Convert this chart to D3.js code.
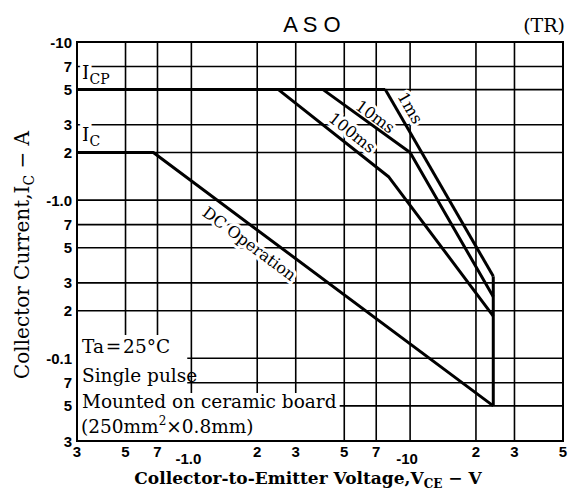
<!DOCTYPE html>
<html>
<head>
<meta charset="utf-8">
<script src="https://cdn.jsdelivr.net/npm/d3@7"></script>
<style>
  body { margin: 0; background: #fff; }
  .tick { font-family: "Liberation Sans", Arial, sans-serif; font-weight: bold; font-size: 15px; }
  .serif { font-family: "DejaVu Serif", serif; }
</style>
</head>
<body>
<svg width="585" height="493"></svg>
<script>
// ---- data ----
var xTicks = [0.3, 0.5, 0.7, 1, 2, 3, 5, 7, 10, 20, 30, 50];
var xTickLabels = ["3", "5", "7", "-1.0", "2", "3", "5", "7", "-10", "2", "3", "5"];
var yTicks = [0.03, 0.05, 0.07, 0.1, 0.2, 0.3, 0.5, 0.7, 1, 2, 3, 5, 7, 10];
var yTickLabels = ["3", "5", "7", "-0.1", "2", "3", "5", "7", "-1.0", "2", "3", "5", "7", "-10"];

var icp = [[0.3, 5], [7.7, 5]];
var dc = [[0.3, 2], [0.67, 2], [24, 0.05]];
var ms100 = [[2.5, 5], [8, 1.4], [24, 0.185]];
var ms10 = [[4, 5], [10, 2], [24, 0.245]];
var ms1 = [[7.7, 5], [24, 0.33]];
var vceo = [[24, 0.33], [24, 0.05]];

// label anchors: [text, V, I, segment used for angle]
var curveLabels = [
  ["DC Operation", 1.84, 0.53, [dc[1], dc[2]]],
  ["100ms", 5.43, 2.67, [ms100[0], ms100[1]]],
  ["10ms", 6.93, 3.37, [ms10[0], ms10[1]]],
  ["1ms", 10, 3.83, [ms1[0], ms1[1]]]
];
var notes = ["Ta\u200a=\u200a25°C", "Single pulse", "Mounted on ceramic board"];

var svg = d3.select('svg');
var mLeft = 77, mRight = 563, mTop = 42, mBottom = 441;

var x = d3.scaleLog().domain([0.3, 50]).range([mLeft, mRight]);
var y = d3.scaleLog().domain([0.03, 10]).range([mBottom, mTop]);

var gridG = svg.append('g'), boxG = svg.append('g'), labelG = svg.append('g'),
    curveG = svg.append('g'), textG = svg.append('g');

gridG.selectAll('line.v').data(xTicks).enter().append('line')
    .attr('x1', function (d) { return x(d); }).attr('x2', function (d) { return x(d); })
    .attr('y1', mTop).attr('y2', mBottom)
    .attr('stroke', '#000').attr('stroke-width', 1.6);
gridG.selectAll('line.h').data(yTicks).enter().append('line')
    .attr('y1', function (d) { return y(d); }).attr('y2', function (d) { return y(d); })
    .attr('x1', mLeft).attr('x2', mRight)
    .attr('stroke', '#000').attr('stroke-width', 1.6);

var line = d3.line().x(function (d) { return x(d[0]); }).y(function (d) { return y(d[1]); });
curveG.selectAll('path').data([icp, dc, ms100, ms10, ms1, vceo]).enter().append('path')
    .attr('d', line)
    .attr('fill', 'none').attr('stroke', '#000').attr('stroke-width', 3)
    .attr('stroke-linejoin', 'round');

curveG.append('rect')
    .attr('x', mLeft).attr('y', mTop).attr('width', mRight - mLeft).attr('height', mBottom - mTop)
    .attr('fill', 'none').attr('stroke', '#000').attr('stroke-width', 2);

// tick labels
textG.append('g').selectAll('text').data(yTicks).enter().append('text')
    .attr('class', 'tick')
    .attr('x', mLeft - 5).attr('y', function (d) { return y(d) + 5.5; })
    .attr('text-anchor', 'end')
    .text(function (d, i) { return yTickLabels[i]; });
textG.append('g').selectAll('text').data(xTicks).enter().append('text')
    .attr('class', 'tick')
    .attr('x', function (d, i) { return x(d) + (xTickLabels[i].charAt(0) === '-' ? -3 : 0); })
    .attr('y', function (d, i) { return xTickLabels[i].charAt(0) === '-' ? 464 : 457; })
    .attr('text-anchor', 'middle')
    .text(function (d, i) { return xTickLabels[i]; });

// curve labels with white halo (under the curves)
curveLabels.forEach(function (c) {
    var a = c[3][0], b = c[3][1];
    var ang = Math.atan2(y(b[1]) - y(a[1]), x(b[0]) - x(a[0])) * 180 / Math.PI;
    labelG.append('text')
        .attr('class', 'serif')
        .attr('font-size', 16)
        .attr('text-anchor', 'middle')
        .attr('dominant-baseline', 'central')
        .attr('transform', 'translate(' + x(c[1]) + ',' + y(c[2]) + ') rotate(' + ang + ')')
        .attr('stroke', '#fff').attr('stroke-width', 6).attr('paint-order', 'stroke')
        .attr('fill', '#000')
        .text(c[0]);
});

// I_CP / I_C labels
function subLabel(main, sub, px, py) {
    var t = labelG.append('text').attr('class', 'serif').attr('font-size', 19)
        .attr('x', px).attr('y', py)
        .attr('stroke', '#fff').attr('stroke-width', 6).attr('paint-order', 'stroke');
    t.append('tspan').text(main);
    t.append('tspan').attr('dy', 5).attr('font-size', 14).text(sub);
}
subLabel('I', 'CP', mLeft + 5, y(7) + 13);
subLabel('I', 'C', mLeft + 5, y(3) + 16);

// conditions
var noteT = textG.append('g').selectAll('text').data(notes).enter().append('text')
    .attr('class', 'serif').attr('font-size', 18.5)
    .attr('x', mLeft + 5)
    .attr('y', function (d, i) { return [353, 382, 408][i]; })
    .text(function (d) { return d; });
var dim = textG.append('text').attr('class', 'serif').attr('font-size', 18.5)
    .attr('x', mLeft + 4).attr('y', 433);
dim.append('tspan').text('(250mm');
dim.append('tspan').attr('dy', -8).attr('font-size', 12).text('2');
dim.append('tspan').attr('dy', 8).text('×0.8mm)');

// white box behind the conditions, sized from the text
var bb = noteT.nodes().map(function (n) { return n.getBBox(); });
var upR = Math.max(bb[0].x + bb[0].width, bb[1].x + bb[1].width) - 10;
var loR = bb[2].x + bb[2].width + 3;
boxG.append('path')
    .attr('d', 'M' + (mLeft + 1) + ',' + (bb[0].y - 1) + 'H' + upR + 'V' + (bb[2].y + 2) +
         'H' + loR + 'V' + (mBottom - 1) + 'H' + (mLeft + 1) + 'Z')
    .attr('fill', '#fff');

// title
textG.append('text')
    .attr('x', 312).attr('y', 32)
    .attr('text-anchor', 'middle')
    .attr('font-family', '"Liberation Sans", Arial, sans-serif')
    .attr('font-size', 22)
    .text('A S O');
textG.append('text').attr('class', 'serif')
    .attr('x', 565).attr('y', 32).attr('text-anchor', 'end')
    .attr('font-size', 19)
    .text('(TR)');

// axis titles
var xt = textG.append('text').attr('class', 'serif')
    .attr('x', 308).attr('y', 484).attr('text-anchor', 'middle')
    .attr('font-size', 17).attr('font-weight', 'bold');
xt.append('tspan').text('Collector-to-Emitter Voltage,V');
xt.append('tspan').attr('dy', 4).attr('font-size', 12).text('CE');
xt.append('tspan').attr('dy', -4).text(' \u2212 V');

var yt = textG.append('text').attr('class', 'serif')
    .attr('transform', 'translate(29,255) rotate(-90)')
    .attr('text-anchor', 'middle')
    .attr('font-size', 20);
yt.append('tspan').text('Collector Current,I');
yt.append('tspan').attr('dy', 5).attr('font-size', 14).text('C');
yt.append('tspan').attr('dy', -5).text(' \u2212 A');
</script>
</body>
</html>
